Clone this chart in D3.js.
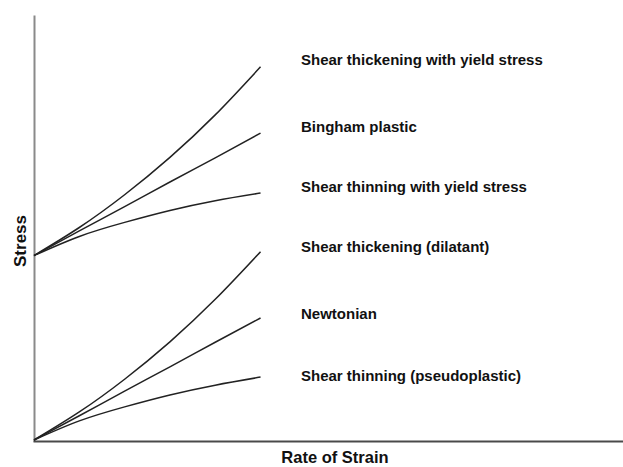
<!DOCTYPE html>
<html>
<head>
<meta charset="utf-8">
<script src="https://cdn.jsdelivr.net/npm/d3@7"></script>
<style>
  html, body { margin: 0; padding: 0; background: #fff; }
  svg { display: block; }
  text { font-family: "Liberation Sans", Arial, Helvetica, sans-serif; font-weight: bold; fill: #111; }
</style>
</head>
<body>
<script>
// Rate of strain sample points (relative units)
const strainRate = [0, 0.2, 0.4, 0.6, 0.8, 1.0];

// Series names (top to bottom)
const seriesNames = [
  "Shear thickening with yield stress",
  "Bingham plastic",
  "Shear thinning with yield stress",
  "Shear thickening (dilatant)",
  "Newtonian",
  "Shear thinning (pseudoplastic)"
];

// Stress values (relative units)
const thickeningYield = [4.34, 5.00, 5.77, 6.65, 7.65, 8.78];
const bingham         = [4.34, 4.92, 5.49, 6.07, 6.64, 7.22];
const thinningYield   = [4.34, 4.79, 5.12, 5.40, 5.63, 5.81];
const dilatant        = [0, 0.66, 1.43, 2.31, 3.31, 4.43];
const newtonian       = [0, 0.57, 1.15, 1.72, 2.30, 2.87];
const pseudoplastic   = [0, 0.45, 0.78, 1.06, 1.29, 1.48];

const seriesValues = [thickeningYield, bingham, thinningYield, dilatant, newtonian, pseudoplastic];
const labelShift = [-2, -1, -1, 0, 1, 4];

const xTitle = "Rate of Strain";
const yTitle = "Stress";

const W = 623, H = 467;
const svg = d3.select("body").append("svg").attr("width", W).attr("height", H);

const x = d3.scaleLinear().domain([0, 2.6]).range([34, 623]);
const y = d3.scaleLinear().domain([0, 10]).range([440, 15]);

// Axes
const yAxis = svg.append("g").attr("transform", "translate(34,0)")
  .call(d3.axisLeft(d3.scaleLinear().domain([0, 10]).range([441, 15])).tickValues([]).tickSizeOuter(0));
yAxis.select(".domain").attr("stroke", "#8a8a8a").attr("stroke-width", 2);

const xAxis = svg.append("g").attr("transform", "translate(0,441)")
  .call(d3.axisBottom(d3.scaleLinear().domain([0, 2.6]).range([33, 623])).tickValues([]).tickSizeOuter(0));
xAxis.select(".domain").attr("stroke", "#4a4a4a").attr("stroke-width", 2);

// Curves
const line = d3.line()
  .x((d, i) => x(strainRate[i]))
  .y(d => y(d))
  .curve(d3.curveNatural);

svg.append("g").selectAll("path")
  .data(seriesValues)
  .join("path")
  .attr("d", d => line(d))
  .attr("fill", "none")
  .attr("stroke", "#222")
  .attr("stroke-width", 1.5);

// Labels
svg.append("g").selectAll("text")
  .data(seriesNames)
  .join("text")
  .attr("x", 301)
  .attr("y", (d, i) => y(seriesValues[i][seriesValues[i].length - 1]) + labelShift[i])
  .attr("font-size", 15)
  .attr("textLength", (d, i) => null)
  .text(d => d);

// Axis titles
svg.append("text")
  .attr("x", 335).attr("y", 463)
  .attr("text-anchor", "middle")
  .attr("font-size", 16.5)
  .text(xTitle);

svg.append("text")
  .attr("transform", "translate(25.5,241) rotate(-90)")
  .attr("text-anchor", "middle")
  .attr("font-size", 17)
  .text(yTitle);
</script>
</body>
</html>
